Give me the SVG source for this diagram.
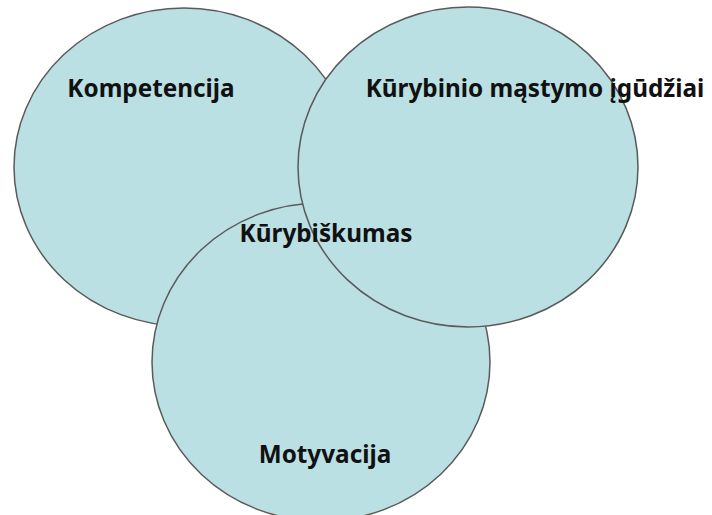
<svg xmlns="http://www.w3.org/2000/svg" width="712" height="515" viewBox="0 0 712 515">
<style>
.c{fill:#bae0e4;stroke:#5a5a5a;stroke-width:1.5}
.t{font-family:"Noto Sans","Open Sans",sans-serif;font-weight:bold;font-size:24.3px;fill:#111;text-anchor:middle}
</style>
<rect width="712" height="515" fill="#ffffff"/>
<g id="kompetencija"><ellipse class="c" cx="184" cy="167" rx="170" ry="159"/></g>
<g id="motyvacija"><ellipse class="c" cx="321" cy="362" rx="169" ry="159"/></g>
<g id="igudziai"><ellipse class="c" cx="468" cy="167" rx="170" ry="160"/></g>
<g id="labels">
<text class="t" x="151" y="97">Kompetencija</text>
<text class="t" x="535" y="97">Kūrybinio mąstymo įgūdžiai</text>
<text class="t" x="326" y="242">Kūrybiškumas</text>
<text class="t" x="325" y="463">Motyvacija</text>
</g>
<g id="connectors"></g>
</svg>
